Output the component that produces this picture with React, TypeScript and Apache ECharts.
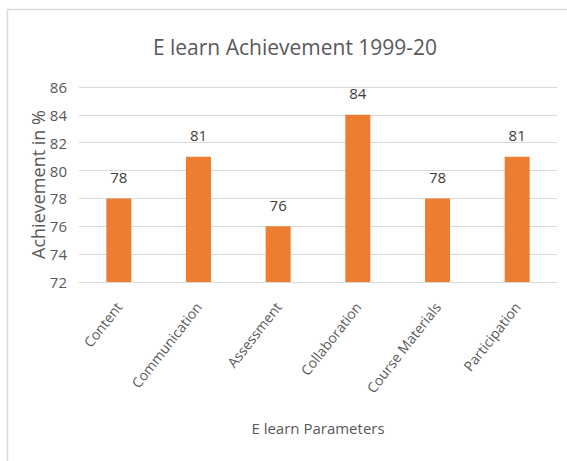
import React, { useEffect, useRef } from "react";
import * as echarts from "echarts";

const categories = ["Content", "Communication", "Assessment", "Collaboration", "Course Materials", "Participation"];
const values = [78, 81, 76, 84, 78, 81];
const yMin = 72;
const yMax = 86;
const yStep = 2;

const FONT = "'Open Sans', sans-serif";

export default function App() {
  const ref = useRef<HTMLDivElement>(null);
  useEffect(() => {
    if (!ref.current) return;
    const chart = echarts.init(ref.current, null, { renderer: "svg" });
    chart.setOption({
      animation: false,
      backgroundColor: "#ffffff",
      title: {
        text: "E learn Achievement 1999-20",
        left: 290,
        textAlign: "center",
        top: 31,
        textStyle: { fontFamily: FONT, fontSize: 21, fontWeight: "normal", color: "#595959" },
      },
      graphic: [
        { type: "line", shape: { x1: 7.5, y1: 9, x2: 7.5, y2: 461 }, style: { stroke: "#d9d9d9", lineWidth: 1.5 } },
        { type: "line", shape: { x1: 7, y1: 9.5, x2: 567, y2: 9.5 }, style: { stroke: "#d9d9d9", lineWidth: 1.5 } },
      ],
      grid: { left: 79, right: 10, top: 87, bottom: 179, containLabel: false },
      xAxis: {
        type: "category",
        data: categories,
        name: "E learn Parameters",
        nameLocation: "middle",
        nameGap: 138,
        nameMoveOverlap: false,
        nameTextStyle: { fontFamily: FONT, fontSize: 15, color: "#595959" },
        axisLine: { lineStyle: { color: "#d9d9d9", width: 1 } },
        axisTick: { show: false },
        axisLabel: {
          rotate: 52,
          interval: 0,
          margin: 22,
          fontFamily: FONT,
          fontSize: 14,
          color: "#595959",
        },
      },
      yAxis: {
        type: "value",
        min: yMin,
        max: yMax,
        interval: yStep,
        name: "Achievement in %",
        nameLocation: "middle",
        nameGap: 32,
        nameMoveOverlap: false,
        nameTextStyle: { fontFamily: FONT, fontSize: 18, color: "#595959" },
        axisLine: { show: false },
        axisTick: { show: false },
        axisLabel: { margin: 12, fontFamily: FONT, fontSize: 15, color: "#595959" },
        splitLine: { lineStyle: { color: "#d9d9d9", width: 1 } },
      },
      series: [
        {
          type: "bar",
          data: values,
          barWidth: 25,
          itemStyle: { color: "#ED7D31" },
          label: {
            show: true,
            position: "top",
            distance: 14,
            fontFamily: FONT,
            fontSize: 15,
            color: "#404040",
          },
        },
      ],
    });
    return () => chart.dispose();
  }, []);
  return <div ref={ref} style={{ position: "fixed", left: 0, top: 0, width: 567, height: 461 }} />;
}
